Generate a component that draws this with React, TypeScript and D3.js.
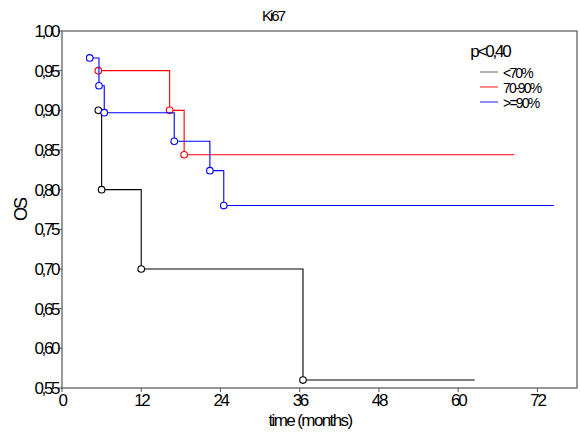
import React, { useEffect, useRef } from 'react';
import * as d3 from 'd3';

const groupNames = ['<70%', '70-90%', '>=90%'];
const groupColors = ['#000000', '#ff0000', '#0000ff'];

// event times (months) and survival proportion at each event
const lowTimes = [5.5, 6, 12, 36.5];
const lowSurv = [0.9, 0.8, 0.7, 0.56];
const midTimes = [5.5, 16.3, 18.5];
const midSurv = [0.95, 0.9, 0.844];
const highTimes = [4.2, 5.6, 6.4, 17, 22.4, 24.5];
const highSurv = [0.966, 0.931, 0.897, 0.861, 0.824, 0.78];
// last follow-up per group
const lastFollowUp = [62.5, 68.5, 74.5];

const xTicks = [0, 12, 24, 36, 48, 60, 72];
const yTicks = [0.55, 0.6, 0.65, 0.7, 0.75, 0.8, 0.85, 0.9, 0.95, 1.0];

const font = '"Liberation Sans", Arial, sans-serif';

const App = () => {
  const svgRef = useRef(null);

  useEffect(() => {
    const svg = d3.select(svgRef.current);
    svg.selectAll('*').remove();

    const width = 580;
    const height = 434;
    const margin = { top: 31, right: 3, bottom: 46, left: 62 };

    const x = d3.scaleLinear()
      .domain([0, 78])
      .range([margin.left, width - margin.right]);
    const y = d3.scaleLinear()
      .domain([0.55, 1.0])
      .range([height - margin.bottom, margin.top]);

    // frame
    svg.append('rect')
      .attr('x', margin.left)
      .attr('y', margin.top)
      .attr('width', width - margin.right - margin.left)
      .attr('height', height - margin.bottom - margin.top)
      .attr('fill', 'white')
      .attr('stroke', '#555')
      .attr('stroke-width', 1.2);

    // y ticks
    const yAxis = svg.append('g');
    yTicks.forEach(t => {
      yAxis.append('line')
        .attr('x1', margin.left - 4).attr('x2', margin.left)
        .attr('y1', y(t)).attr('y2', y(t))
        .attr('stroke', '#555');
      yAxis.append('text')
        .attr('x', margin.left - 4)
        .attr('y', y(t) + 6)
        .attr('text-anchor', 'end')
        .attr('font-family', font)
        .attr('font-size', 17)
        .attr('letter-spacing', -2.4)
        .text(d3.format('.2f')(t).replace('.', ','));
    });

    // x ticks
    const xAxis = svg.append('g');
    xTicks.forEach(t => {
      xAxis.append('line')
        .attr('x1', x(t)).attr('x2', x(t))
        .attr('y1', height - margin.bottom).attr('y2', height - margin.bottom + 4)
        .attr('stroke', '#555');
      xAxis.append('text')
        .attr('x', x(t))
        .attr('y', height - margin.bottom + 18)
        .attr('text-anchor', 'middle')
        .attr('font-family', font)
        .attr('font-size', 17)
        .attr('letter-spacing', -2.4)
        .text(t);
    });

    // labels
    svg.append('text')
      .attr('x', 273).attr('y', 21)
      .attr('text-anchor', 'middle')
      .attr('font-family', font).attr('font-size', 15).attr('letter-spacing', -2)
      .text('Ki67');
    svg.append('text')
      .attr('x', 310).attr('y', 426)
      .attr('text-anchor', 'middle')
      .attr('font-family', font).attr('font-size', 17).attr('letter-spacing', -1.6)
      .text('time (months)');
    svg.append('text')
      .attr('transform', `translate(27, 210) rotate(-90)`)
      .attr('text-anchor', 'middle')
      .attr('font-family', font).attr('font-size', 18).attr('letter-spacing', -2)
      .text('OS');

    // curves
    const series = [
      { times: lowTimes, surv: lowSurv },
      { times: midTimes, surv: midSurv },
      { times: highTimes, surv: highSurv },
    ];
    const line = d3.line()
      .x(d => x(d[0]))
      .y(d => y(d[1]))
      .curve(d3.curveStepAfter);

    series.forEach((s, i) => {
      const pts = s.times.map((t, j) => [t, s.surv[j]]);
      pts.push([lastFollowUp[i], s.surv[s.surv.length - 1]]);
      const g = svg.append('g');
      g.append('path')
        .attr('d', line(pts))
        .attr('fill', 'none')
        .attr('stroke', groupColors[i])
        .attr('stroke-width', 1.1);
      g.selectAll('circle')
        .data(s.times.map((t, j) => [t, s.surv[j]]))
        .enter()
        .append('circle')
        .attr('cx', d => x(d[0]))
        .attr('cy', d => y(d[1]))
        .attr('r', 3.3)
        .attr('fill', 'white')
        .attr('stroke', groupColors[i])
        .attr('stroke-width', 1.1);
    });

    // legend
    const legend = svg.append('g');
    legend.append('text')
      .attr('x', 490).attr('y', 57)
      .attr('text-anchor', 'middle')
      .attr('font-family', font).attr('font-size', 17).attr('letter-spacing', -2.2)
      .text('p<0,40');
    groupNames.forEach((name, i) => {
      const ly = 72 + i * 15;
      legend.append('line')
        .attr('x1', 480).attr('x2', 498)
        .attr('y1', ly).attr('y2', ly)
        .attr('stroke', groupColors[i])
        .attr('stroke-opacity', i === 0 ? 0.6 : 0.9);
      legend.append('text')
        .attr('x', 503).attr('y', ly + 6)
        .attr('font-family', font).attr('font-size', 14).attr('letter-spacing', -1.8)
        .text(name);
    });
  }, []);

  return (
    <svg ref={svgRef} width={580} height={434}
      style={{ position: 'absolute', left: 0, top: 0, background: 'white' }}></svg>
  );
};

export default App;
